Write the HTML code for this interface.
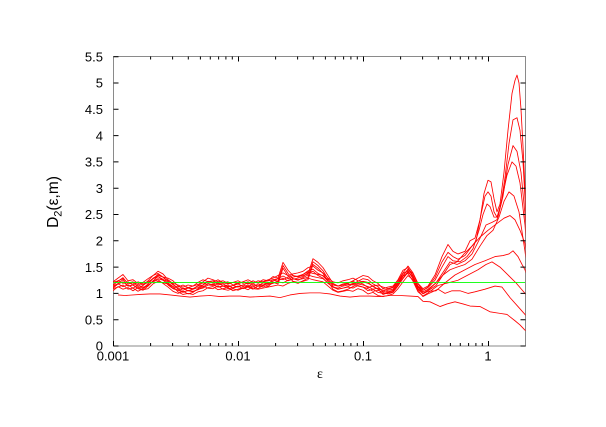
<!DOCTYPE html>
<html>
<head>
<meta charset="utf-8">
<style>
html,body{margin:0;padding:0;background:#fff;}
svg{display:block;}
text{font-family:"Liberation Sans",sans-serif;fill:#000;}
</style>
</head>
<body>
<svg width="606" height="427" viewBox="0 0 606 427" xmlns="http://www.w3.org/2000/svg">
<defs>
<clipPath id="pc"><rect x="113" y="56" width="412.5" height="290"/></clipPath>
<polyline id="v1" vector-effect="non-scaling-stroke" points="113,1.18 118,1.25 123,1.32 128,1.2 133,1.22 138,1.15 143,1.12 148,1.2 153,1.3 158,1.38 163,1.33 168,1.22 173,1.15 178,1.12 183,1.08 188,1.12 193,1.1 198,1.13 203,1.18 208,1.25 213,1.22 218,1.18 223,1.2 228,1.15 233,1.17 238,1.2 243,1.15 248,1.18 253,1.14 258,1.2 263,1.18 268,1.22 273,1.25 278,1.3 283,1.35 288,1.3 293,1.33 298,1.35 303,1.38 308,1.45 313,1.48 318,1.4 323,1.35 328,1.25 333,1.18 338,1.16 343,1.2 348,1.22 353,1.25 358,1.2 363,1.18 368,1.15 373,1.1 378,1.12 383,1.08 388,1.05 393,1.08 398,1.2 403,1.35 408,1.48 413,1.35 418,1.15 423,1.05 428,1.1"/>
<polyline id="v2" vector-effect="non-scaling-stroke" points="113,1.12 118,1.2 123,1.15 128,1.18 133,1.12 138,1.18 143,1.14 148,1.16 153,1.25 158,1.3 163,1.27 168,1.25 173,1.2 178,1.1 183,1.05 188,1.07 193,1.05 198,1.1 203,1.12 208,1.18 213,1.2 218,1.14 223,1.16 228,1.18 233,1.12 238,1.15 243,1.18 248,1.14 253,1.2 258,1.16 263,1.22 268,1.2 273,1.28 278,1.25 283,1.55 288,1.4 293,1.3 298,1.28 303,1.3 308,1.33 313,1.62 318,1.55 323,1.45 328,1.3 333,1.15 338,1.1 343,1.12 348,1.15 353,1.2 358,1.25 363,1.3 368,1.28 373,1.2 378,1.15 383,1.05 388,1.08 393,1.1 398,1.22 403,1.4 408,1.45 413,1.3 418,1.1 423,1.02 428,1.08"/>
<polyline id="v3" vector-effect="non-scaling-stroke" points="113,1.15 118,1.18 123,1.22 128,1.14 133,1.16 138,1.1 143,1.15 148,1.22 153,1.28 158,1.32 163,1.25 168,1.18 173,1.1 178,1.06 183,1.1 188,1.05 193,1.08 198,1.15 203,1.2 208,1.16 213,1.15 218,1.2 223,1.14 228,1.12 233,1.15 238,1.12 243,1.16 248,1.2 253,1.15 258,1.14 263,1.16 268,1.18 273,1.2 278,1.22 283,1.2 288,1.25 293,1.28 298,1.25 303,1.3 308,1.35 313,1.32 318,1.3 323,1.28 328,1.2 333,1.12 338,1.08 343,1.1 348,1.12 353,1.1 358,1.15 363,1.12 368,1.05 373,1.08 378,1.02 383,1.0 388,1.02 393,1.05 398,1.15 403,1.28 408,1.4 413,1.32 418,1.12 423,1.0 428,1.05"/>
</defs>

<rect x="113.5" y="56.5" width="412" height="289.5" fill="none" stroke="#8a8a8a" stroke-width="1"/>

<g clip-path="url(#pc)">
<g transform="translate(0 346) scale(1 -52.6)" fill="none" stroke="#ff0000" stroke-width="0.85" stroke-linejoin="round">
  <use href="#v1" transform="translate(0 0.04)"/>
  <use href="#v2" transform="translate(0 0.04)"/>
  <use href="#v3" transform="translate(0 0.06)"/>
  <use href="#v1" transform="translate(0 -0.02)"/>
  <use href="#v2" transform="translate(0 -0.02)"/>
  <use href="#v3" transform="translate(0 0)"/>
  <use href="#v1" transform="translate(0 -0.06)"/>
  <use href="#v2" transform="translate(0 -0.07)"/>
  <use href="#v3" transform="translate(0 -0.06)"/>

  <polyline vector-effect="non-scaling-stroke" points="428,1.14 435,1.35 442,1.7 448,1.93 453,1.8 458,1.75 465,1.8 470,2.0 475,2.05 480,2.4 484,2.9 488,3.15 491,3.12 494,2.8 497,2.55 500,2.7 504,3.3 508,4.1 512,4.8 515,5.05 517,5.15 519,5.0 521,4.5 523,3.8 525,3.0 527,2.0"/>
  <polyline vector-effect="non-scaling-stroke" points="428,1.12 435,1.3 442,1.6 448,1.78 453,1.7 458,1.65 465,1.72 470,1.85 476,2.0 481,2.5 485,2.85 488,2.93 491,2.85 494,2.55 497,2.45 501,2.7 505,3.2 509,3.85 513,4.3 517,4.34 520,4.1 523,3.5 525,2.8 527,2"/>
  <polyline vector-effect="non-scaling-stroke" points="428,1.11 435,1.25 442,1.5 448,1.7 453,1.62 460,1.6 467,1.7 473,1.85 479,2.2 483,2.5 487,2.7 490,2.65 494,2.45 498,2.45 503,2.85 508,3.45 513,3.81 517,3.7 521,3.3 525,2.5 527,2"/>
  <polyline vector-effect="non-scaling-stroke" points="428,1.08 436,1.2 443,1.4 450,1.6 457,1.55 465,1.62 472,1.75 480,2.05 486,2.3 492,2.35 497,2.4 502,2.8 507,3.25 512,3.5 516,3.42 520,3.1 525,2.3 527,1.8"/>
  <polyline vector-effect="non-scaling-stroke" points="428,1.06 436,1.2 443,1.35 450,1.45 457,1.5 465,1.55 472,1.65 480,1.9 487,2.1 493,2.2 499,2.45 504,2.75 509,2.93 514,2.85 519,2.55 525,1.8 527,1.5"/>
  <polyline vector-effect="non-scaling-stroke" points="428,1.05 436,1.15 443,1.35 450,1.55 457,1.6 464,1.75 472,1.9 480,2.07 488,2.2 497,2.33 504,2.43 510,2.48 515,2.4 520,2.2 525,1.95 527,1.7"/>
  <polyline vector-effect="non-scaling-stroke" points="428,1.04 436,1.05 445,1.2 455,1.35 465,1.45 475,1.55 485,1.62 495,1.7 503,1.72 509,1.75 513,1.81 518,1.7 522,1.55 525,1.45 527,1.3"/>
  <polyline vector-effect="non-scaling-stroke" points="428,1.01 438,1.15 448,1.2 458,1.25 468,1.35 478,1.45 486,1.55 492,1.6 500,1.5 508,1.35 516,1.2 525,1.0 527,0.95"/>
  <polyline vector-effect="non-scaling-stroke" points="428,0.99 438,1.08 445,1.0 452,1.05 460,1.05 468,1.0 475,1.03 485,1.08 495,1.14 502,1.12 510,0.92 518,0.75 525,0.6 527,0.55"/>
  <polyline vector-effect="non-scaling-stroke" points="118,0.97 125,0.96 140,0.98 150,0.99 160,0.99 170,0.97 180,0.95 190,0.93 200,0.95 210,0.96 220,0.94 230,0.95 240,0.95 250,0.93 260,0.94 270,0.95 280,0.92 290,0.97 300,1.0 310,1.01 320,1.01 330,0.99 340,0.95 350,0.93 360,0.95 370,0.95 380,0.94 390,0.96 400,0.96 410,0.95 418,0.94 423,0.85 430,0.84 440,0.75 447,0.8 455,0.84 463,0.8 470,0.76 480,0.75 490,0.65 500,0.62 507,0.6 515,0.48 520,0.4 525,0.3 527,0.27"/>
</g>
</g>

<line x1="113.5" y1="282.4" x2="525" y2="282.4" stroke="#00ff00" stroke-width="0.9"/>

<g stroke="#000" stroke-width="1" fill="none">
  <path d="M113.5 346H118.5 M113.5 319.7H118.5 M113.5 293.4H118.5 M113.5 267.1H118.5 M113.5 240.8H118.5 M113.5 214.5H118.5 M113.5 188.2H118.5 M113.5 161.9H118.5 M113.5 135.6H118.5 M113.5 109.3H118.5 M113.5 83H118.5 M113.5 56.7H118.5"/>
  <path d="M525.5 346H520.5 M525.5 319.7H520.5 M525.5 293.4H520.5 M525.5 267.1H520.5 M525.5 240.8H520.5 M525.5 214.5H520.5 M525.5 188.2H520.5 M525.5 161.9H520.5 M525.5 135.6H520.5 M525.5 109.3H520.5 M525.5 83H520.5"/>
  <path d="M113.5 346V341 M238.5 346V341 M363.5 346V341 M488.5 346V341 M238.5 56.5V61.5 M363.5 56.5V61.5 M488.5 56.5V61.5"/>
  <path d="M150.6 346V343 M172.6 346V343 M188.3 346V343 M200.4 346V343 M210.3 346V343 M218.6 346V343 M225.9 346V343 M232.3 346V343
           M275.6 346V343 M297.6 346V343 M313.3 346V343 M325.4 346V343 M335.3 346V343 M343.6 346V343 M350.9 346V343 M357.3 346V343
           M400.6 346V343 M422.6 346V343 M438.3 346V343 M450.4 346V343 M460.3 346V343 M468.6 346V343 M475.9 346V343 M482.3 346V343"/>
  <path d="M150.6 56.5V59.5 M172.6 56.5V59.5 M188.3 56.5V59.5 M200.4 56.5V59.5 M210.3 56.5V59.5 M218.6 56.5V59.5 M225.9 56.5V59.5 M232.3 56.5V59.5
           M275.6 56.5V59.5 M297.6 56.5V59.5 M313.3 56.5V59.5 M325.4 56.5V59.5 M335.3 56.5V59.5 M343.6 56.5V59.5 M350.9 56.5V59.5 M357.3 56.5V59.5
           M400.6 56.5V59.5 M422.6 56.5V59.5 M438.3 56.5V59.5 M450.4 56.5V59.5 M460.3 56.5V59.5 M468.6 56.5V59.5 M475.9 56.5V59.5 M482.3 56.5V59.5"/>
</g>

<g font-size="13" text-anchor="end">
  <text x="103" y="350.7">0</text>
  <text x="103" y="324.4">0.5</text>
  <text x="103" y="298.1">1</text>
  <text x="103" y="271.8">1.5</text>
  <text x="103" y="245.5">2</text>
  <text x="103" y="219.2">2.5</text>
  <text x="103" y="192.9">3</text>
  <text x="103" y="166.6">3.5</text>
  <text x="103" y="140.3">4</text>
  <text x="103" y="114">4.5</text>
  <text x="103" y="87.7">5</text>
  <text x="103" y="61.4">5.5</text>
</g>

<g font-size="13" text-anchor="middle">
  <text x="113" y="360.5">0.001</text>
  <text x="238" y="360.5">0.01</text>
  <text x="363" y="360.5">0.1</text>
  <text x="488" y="360.5">1</text>
</g>

<text x="320" y="378" font-size="14" text-anchor="middle" style="font-family:'Liberation Serif',serif;">ε</text>
<text transform="rotate(-90 58 202)" x="58" y="202" font-size="15.5" text-anchor="middle">D<tspan font-size="11" dy="3.5">2</tspan><tspan dy="-3.5">(ε,m)</tspan></text>
</svg>
</body>
</html>
